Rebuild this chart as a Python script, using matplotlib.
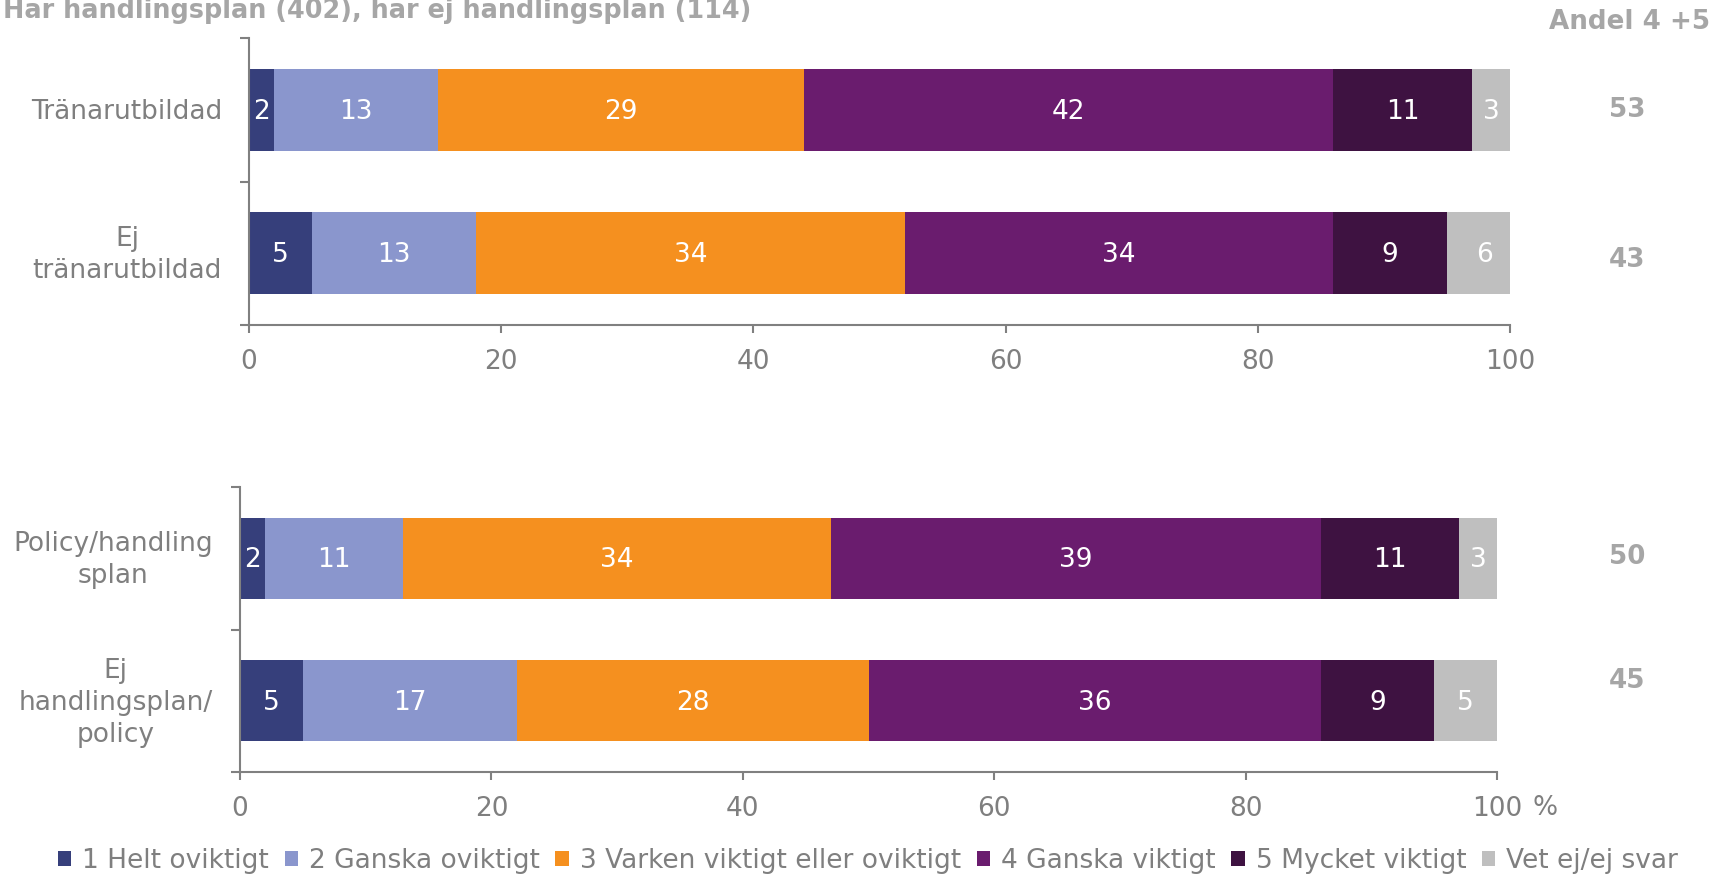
import matplotlib
matplotlib.use("Agg")
import matplotlib.pyplot as plt
from matplotlib.patches import Patch

plt.rcParams['font.family'] = ['DejaVu Sans']

# ---------------- data ----------------
series = ["1 Helt oviktigt", "2 Ganska oviktigt", "3 Varken viktigt eller oviktigt",
          "4 Ganska viktigt", "5 Mycket viktigt", "Vet ej/ej svar"]
colors = ["#363F7B", "#8A96CD", "#F5901F", "#6A1C6E", "#3E1241", "#BFBFBF"]

top_categories = ["Tränarutbildad", "Ej\ntränarutbildad"]
top_values = [
    [2, 13, 29, 42, 11, 3],
    [5, 13, 34, 34, 9, 6],
]
top_share45 = [53, 43]

bottom_categories = ["Policy/handling\nsplan", "Ej\nhandlingsplan/\npolicy"]
bottom_values = [
    [2, 11, 34, 39, 11, 3],
    [5, 17, 28, 36, 9, 5],
]
bottom_share45 = [50, 45]

xticks = [0, 20, 40, 60, 80, 100]
title = "Har handlingsplan (402), har ej handlingsplan (114)"
share_title = "Andel 4 +5"

# ---------------- layout ----------------
W, H = 1715, 875
fig = plt.figure(figsize=(W / 100, H / 100), dpi=100)

def fx(px):
    return px / W

def fy(py):
    return 1 - py / H

GRAY = "#808080"
TEXT_GRAY = "#7F7F7F"
BOLD_GRAY = "#A6A6A6"
FS = 19

ax_top = fig.add_axes([fx(249), fy(325), fx(1510) - fx(249), fy(38) - fy(325)])
ax_bot = fig.add_axes([fx(240), fy(772), fx(1497) - fx(240), fy(487) - fy(772)])


def draw(ax, cats, vals):
    for i, row in enumerate(vals):
        left = 0
        for j, v in enumerate(row):
            ax.barh(i, v, left=left, height=0.57, color=colors[j], edgecolor='none')
            ax.annotate(str(v), xy=(left + v / 2, i), xytext=(0, -2),
                        textcoords='offset pixels', ha='center', va='center',
                        color='white', fontsize=FS)
            left += v
        ax.annotate(cats[i], xy=(0, i), xycoords=('axes fraction', 'data'),
                    xytext=(-27, -2), textcoords='offset pixels',
                    ha='right', va='center', multialignment='center',
                    linespacing=1.3, color=TEXT_GRAY, fontsize=FS)
    ax.set_xlim(0, 100)
    ax.set_ylim(1.5, -0.5)
    ax.set_yticks([-0.5, 0.5, 1.5])
    ax.set_yticklabels([])
    ax.set_xticks(xticks)
    ax.set_xticklabels([str(t) for t in xticks])
    for s in ['top', 'right']:
        ax.spines[s].set_visible(False)
    for s in ['left', 'bottom']:
        ax.spines[s].set_color(GRAY)
        ax.spines[s].set_linewidth(1.5)
    ax.tick_params(axis='x', direction='out', length=6, width=1.5, color=GRAY,
                   labelcolor=TEXT_GRAY, labelsize=FS, pad=11)
    ax.tick_params(axis='y', direction='out', length=6.5, width=1.5, color=GRAY)


draw(ax_top, top_categories, top_values)
draw(ax_bot, bottom_categories, bottom_values)

# percent sign after the last tick of bottom axis
fig.text(fx(1533), fy(808), "%", ha='left', va='center', color=TEXT_GRAY, fontsize=FS)

# title at the top-left
fig.text(fx(3), fy(11), title, ha='left', va='center', color=BOLD_GRAY,
         fontsize=18.4, fontweight='bold')

# share column
fig.text(fx(1710), fy(22), share_title, ha='right', va='center', color=BOLD_GRAY,
         fontsize=18.8, fontweight='bold')
for v, y in zip(top_share45 + bottom_share45, [110, 260, 557, 681]):
    fig.text(fx(1627), fy(y), str(v), ha='center', va='center', color=BOLD_GRAY,
             fontsize=18.8, fontweight='bold')

# legend
handles = [Patch(facecolor=c, edgecolor='none') for c in colors]
leg = fig.legend(handles, series, loc='center', bbox_to_anchor=(fx(868), fy(861)),
                 ncol=6, frameon=False, fontsize=FS, handlelength=0.5,
                 handleheight=0.5, handletextpad=0.42, columnspacing=0.6,
                 borderaxespad=0, borderpad=0)
for t in leg.get_texts():
    t.set_color(TEXT_GRAY)

fig.savefig("out.png", dpi=100)
